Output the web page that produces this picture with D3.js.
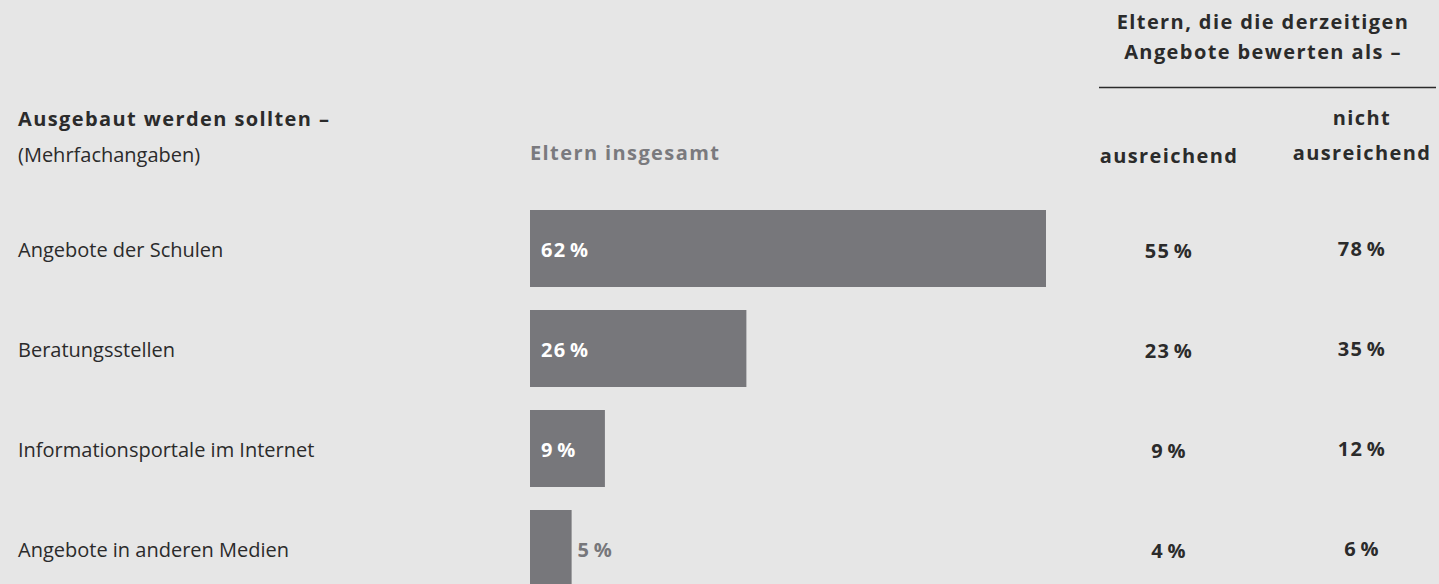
<!DOCTYPE html>
<html><head><meta charset="utf-8">
<script src="https://cdn.jsdelivr.net/npm/d3@7"></script>
<style>
html,body{margin:0;padding:0;background:#e6e6e6;}
svg{display:block;font-family:"Open Sans",sans-serif;}
</style></head>
<body>
<svg id="chart" width="1439" height="584"></svg>
<script>
const categories = ["Angebote der Schulen","Beratungsstellen","Informationsportale im Internet","Angebote in anderen Medien"];
const totalValues = [62, 26, 9, 5];
const sufficientValues = [55, 23, 9, 4];
const insufficientValues = [78, 35, 12, 6];

const svg = d3.select("#chart");
const x = d3.scaleLinear().domain([0, 62]).range([530, 1046]);
const yb = d3.scaleBand().domain(categories).range([210, 610]).padding(0);

const dark = "#2b2b2b";
const grey = "#77777b";
const fs = 20;
const bls = 1.4;
const pct = v => v + "\u200A%";

function boldText(xp, yp, txt, anchor) {
  return svg.append("text").attr("x",xp).attr("y",yp).attr("text-anchor",anchor||"start")
    .attr("font-size",fs).attr("font-weight",700).attr("letter-spacing",bls).attr("fill",dark).text(txt);
}

// headers
boldText(18,126,"Ausgebaut werden sollten –");
svg.append("text").attr("x",18).attr("y",162).attr("font-size",fs).attr("fill",dark).text("(Mehrfachangaben)");
boldText(530,160,"Eltern insgesamt").attr("fill","#7a7a7e");

const cx1 = 1169, cx2 = 1362;
boldText(1263,29,"Eltern, die die derzeitigen","middle");
boldText(1263,59,"Angebote bewerten als –","middle");
svg.append("line").attr("x1",1099).attr("x2",1436).attr("y1",87.5).attr("y2",87.5).attr("stroke",dark).attr("stroke-width",1.5);
boldText(cx2,125,"nicht","middle");
boldText(cx2,160,"ausreichend","middle");
boldText(cx1,163,"ausreichend","middle");

const rows = categories.map((c,i)=>({c, t: totalValues[i], s: sufficientValues[i], n: insufficientValues[i]}));
const h = 77;
const g = svg.selectAll("g.row").data(rows).join("g").attr("class","row");
g.append("text").attr("x",18).attr("y",d=>yb(d.c)+h/2+8).attr("font-size",fs).attr("fill",dark).text(d=>d.c);
g.append("rect").attr("x",x(0)).attr("y",d=>yb(d.c)).attr("width",d=>x(d.t)-x(0)).attr("height",h).attr("fill",grey);
g.append("text")
  .attr("x",d=> d.t >= 8 ? x(0)+11 : x(d.t)+6)
  .attr("y",d=>yb(d.c)+h/2+8).attr("font-size",fs).attr("font-weight",700).attr("letter-spacing",bls)
  .attr("fill",d=> d.t >= 8 ? "#ffffff" : grey).text(d=>pct(d.t));
g.append("text").attr("x",cx1).attr("y",d=>yb(d.c)+h/2+9).attr("text-anchor","middle").attr("font-size",fs).attr("font-weight",700).attr("letter-spacing",bls).attr("fill",dark).text(d=>pct(d.s));
g.append("text").attr("x",cx2).attr("y",d=>yb(d.c)+h/2+7).attr("text-anchor","middle").attr("font-size",fs).attr("font-weight",700).attr("letter-spacing",bls).attr("fill",dark).text(d=>pct(d.n));
</script>
</body></html>
